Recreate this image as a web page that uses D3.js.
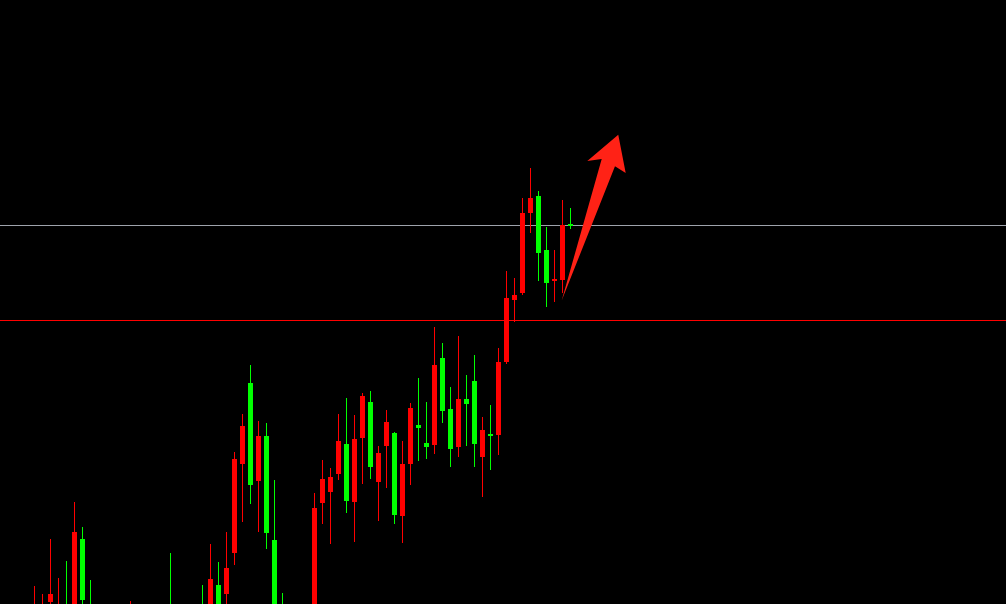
<!DOCTYPE html>
<html>
<head>
<meta charset="utf-8">
<script src="https://cdn.jsdelivr.net/npm/d3@7"></script>
<style>
html,body{margin:0;padding:0;background:#000;overflow:hidden;}
svg{display:block;}
</style>
</head>
<body>
<svg id="chart" width="1006" height="604"></svg>
<script>
// bar index (position in the series)
const barIndex = [0,1,2,3,4,5,6,7,12,17,21,22,23,24,25,26,27,28,29,30,31,35,36,37,38,39,40,41,42,43,44,45,46,47,48,49,50,51,52,53,54,55,56,57,58,59,60,61,62,63,64,65,66,67];
const openVals  = [1948.8,1948.9,1950.2,1948.6,1949.8,1949.0,1956.5,1949.5,1948.5,1949.6,1949.5,1949.3,1951.9,1951.0,1955.1,1964.0,1972.1,1962.3,1966.8,1956.4,1949.6,1949.2,1960.1,1961.2,1963.0,1966.0,1960.2,1966.6,1970.2,1962.2,1965.8,1967.1,1958.8,1964.0,1967.9,1966.1,1965.9,1974.6,1969.5,1965.7,1970.5,1972.3,1964.7,1967.0,1966.9,1974.2,1980.4,1981.1,1989.1,1990.8,1985.4,1982.3,1982.4,1988.0];
const highVals  = [1951.8,1951.0,1956.5,1952.6,1954.3,1960.2,1957.7,1952.4,1950.3,1955.1,1951.9,1956.0,1954.2,1957.2,1965.2,1969.0,1973.9,1968.3,1968.1,1962.4,1951.1,1961.1,1964.4,1963.6,1969.0,1970.6,1968.9,1971.1,1971.3,1965.8,1969.4,1967.2,1966.3,1970.1,1972.6,1970.2,1977.7,1976.1,1971.7,1976.8,1972.9,1974.9,1968.7,1969.9,1975.6,1983.3,1982.6,1990.6,1993.6,1991.3,1987.7,1985.4,1990.4,1989.6];
const lowVals   = [1948.0,1948.2,1949.0,1948.0,1948.2,1948.0,1948.5,1948.0,1947.8,1947.6,1948.0,1948.6,1948.3,1949.6,1953.9,1958.2,1960.0,1957.2,1955.5,1948.0,1948.2,1948.4,1958.0,1956.0,1962.4,1959.1,1956.2,1962.0,1962.5,1958.3,1961.6,1958.0,1956.1,1961.9,1964.3,1964.5,1965.0,1968.1,1963.7,1964.7,1965.8,1963.7,1960.7,1963.4,1964.9,1974.0,1978.2,1980.9,1987.1,1982.3,1979.7,1980.2,1981.1,1987.5];
const closeVals = [1949.6,1949.5,1951.0,1949.6,1948.9,1957.2,1950.4,1948.8,1949.2,1948.4,1948.7,1952.5,1949.0,1953.6,1964.5,1967.8,1961.9,1966.8,1957.1,1948.8,1948.8,1959.6,1962.5,1962.7,1966.3,1960.3,1966.5,1970.8,1963.7,1965.1,1968.2,1958.9,1964.0,1969.6,1967.6,1965.7,1973.9,1969.3,1965.5,1970.5,1970.0,1966.0,1967.4,1966.8,1974.2,1980.6,1980.9,1989.1,1990.6,1985.1,1982.1,1982.5,1987.9,1987.8];

// horizontal reference levels
const levelValues = [1987.87, 1978.37];
const levelColors = ["#9ea3ab", "#ff0000"];

// arrow annotation, [bar index, price]
const arrowPoints = [[65.9,1980.35],[70.9,1994.5],[69.1,1994.3],[72.97,1996.93],[73.9,1993.1],[72.56,1993.77]];

const W = 1006, H = 604;
const svg = d3.select("#chart");
svg.append("rect").attr("width", W).attr("height", H).attr("fill", "#000");

const x = d3.scaleLinear().domain([0, 67]).range([34.5, 570.5]);
const y = d3.scaleLinear().domain([1950, 2010.4]).range([H, 0]);

const data = barIndex.map((i, k) => ({i, o: openVals[k], h: highVals[k], l: lowVals[k], c: closeVals[k]}));
const color = d => d.c >= d.o ? "#ff0000" : "#00ff00";

const g = svg.append("g");
// levels
g.selectAll("line.level").data(levelValues).join("line")
  .attr("class", "level")
  .attr("x1", 0).attr("x2", W)
  .attr("y1", d => Math.round(y(d)) + 0.5).attr("y2", d => Math.round(y(d)) + 0.5)
  .attr("stroke", (d, k) => levelColors[k]).attr("stroke-width", 1);

// wicks
g.selectAll("rect.wick").data(data).join("rect")
  .attr("class", "wick")
  .attr("x", d => x(d.i) - 0.5).attr("width", 1)
  .attr("y", d => y(d.h)).attr("height", d => y(d.l) - y(d.h))
  .attr("fill", color).attr("shape-rendering", "crispEdges");

// bodies
g.selectAll("rect.body").data(data).join("rect")
  .attr("class", "body")
  .attr("x", d => x(d.i) - 2.5).attr("width", 5)
  .attr("y", d => y(Math.max(d.o, d.c)))
  .attr("height", d => Math.max(2, y(Math.min(d.o, d.c)) - y(Math.max(d.o, d.c))))
  .attr("fill", color).attr("shape-rendering", "crispEdges");

// arrow
svg.append("path")
  .datum(arrowPoints)
  .attr("d", d3.line().x(p => x(p[0])).y(p => y(p[1])).curve(d3.curveLinearClosed))
  .attr("fill", "#ff2216");
</script>
</body>
</html>
